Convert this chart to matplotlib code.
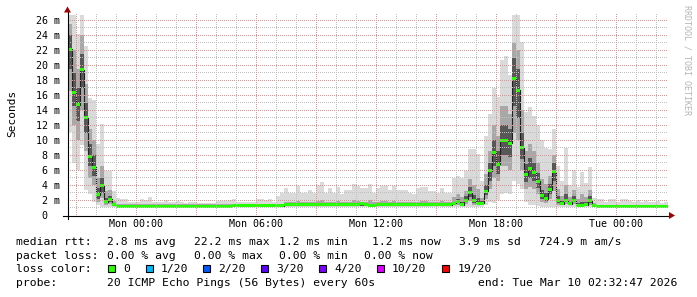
import numpy as np
import matplotlib
matplotlib.use("Agg")
import matplotlib.pyplot as plt
from matplotlib.lines import Line2D
from matplotlib.patches import Rectangle, Polygon

# ---------------- data (ms), 12-minute bins, hours relative to Mon 00:00 ----------------
START_H = -3.4
STEP_H = 0.2

median_ms = ([22.1, 16.4, 14.7, 19.4, 13.0, 7.8, 6.4, 2.7, 3.9, 1.8, 2.1, 1.35]
             + [1.2] * 29 + [1.25] * 13
             + [1.35, 1.35, 1.35, 1.35, 1.35, 1.35, 1.4, 1.4, 1.4, 1.4,
                1.35, 1.35, 1.35, 1.35, 1.35, 1.35, 1.35, 1.4, 1.45, 1.5,
                1.45, 1.3, 1.3, 1.35, 1.35, 1.35, 1.35, 1.35, 1.35, 1.35,
                1.35, 1.35, 1.35, 1.35, 1.4, 1.4, 1.4, 1.45, 1.45]
             + [1.4, 1.4, 1.4, 1.5, 1.8, 1.4, 2.0, 3.0, 1.9, 1.5, 1.6]
             + [3.2, 5.9, 8.3, 6.8, 10.0, 10.0, 9.6, 18.2, 16.6, 9.0, 5.4, 6.2, 5.7, 4.5,
                2.6, 2.2, 3.4, 5.8, 1.9, 1.5, 2.0, 1.5, 2.0, 1.3, 1.3, 1.4, 1.9, 1.3]
             + [1.2] * 18)

smoke_min = ([11.1, 7.0, 6.0, 9.3, 3.3, 2.8, 1.8, 1.3, 1.1, 1.1, 1.1, 1.1]
             + [1.1] * 92
             + [1.4, 1.8, 1.6, 2.0, 2.8, 3.0, 2.8, 4.5, 4.2, 3.5, 1.8, 1.3, 1.3, 1.2]
             + [1.1] * 32)

smoke_max = ([26.7, 26.7, 24.2, 26.7, 22.5, 15.6, 15.3, 9.5, 12.1, 5.9, 5.9, 3.2]
             + [2.3, 2.1, 2.1, 1.8, 1.8, 1.8, 2.1, 2.0, 2.4, 1.8,
                1.7, 1.7, 2.0, 1.7, 1.7, 1.9, 1.7, 1.6, 1.7, 1.7,
                1.6, 1.6, 1.6, 1.6, 1.6, 1.9, 1.9, 1.9, 2.0, 2.1,
                1.8, 1.8, 1.7, 1.7, 1.8, 2.1, 2.1, 2.0, 2.1, 1.8, 2.6, 2.9]
             + [3.6, 2.9, 2.9, 3.9, 2.9, 2.9, 3.3, 3.0, 4.0, 4.4,
                2.9, 3.6, 2.9, 3.8, 2.8, 3.3, 3.3, 4.1, 3.9, 3.6,
                3.6, 4.1, 3.0, 3.6, 3.9, 3.9, 3.4, 3.9, 3.3, 3.4,
                3.4, 2.9, 2.8, 3.6, 3.8, 3.8, 3.2, 3.2, 2.9, 3.6]
             + [3.0, 3.0, 4.9, 5.2, 4.9, 5.9, 8.8, 8.8, 8.2, 4.5]
             + [10.5, 13.5, 17.0, 15.7, 20.7, 21.2, 18.7, 26.7, 26.7, 23.1, 13.8, 14.4, 13.2, 12.0,
                10.0, 9.0, 8.8, 11.5, 6.5, 4.5, 9.0, 4.0, 6.0, 3.8, 5.8, 4.3, 6.4, 2.3]
             + [2.1, 2.1, 1.8, 2.1, 2.2, 1.8, 2.1, 2.1, 1.9, 1.8, 2.0, 1.7, 1.9, 1.8, 1.7, 1.9, 1.6, 1.7])

smoke_mid_lo = ([16.5, 12.0, 10.0, 14.0, 8.5, 5.0, 4.0, 1.8, 2.3, 1.4, 1.5, 1.2]
                + [1.15] * 42 + [1.2] * 39
                + [1.2, 1.2, 1.2, 1.3, 1.4, 1.2, 1.5, 1.9, 1.4, 1.3, 1.3]
                + [2.2, 3.5, 5.0, 4.5, 6.5, 6.5, 6.0, 11.0, 10.0, 6.0, 3.5, 3.8, 3.5, 2.8,
                   1.8, 1.6, 2.2, 3.2, 1.4, 1.3, 1.5, 1.3, 1.5, 1.2, 1.2, 1.2, 1.4, 1.2]
                + [1.15] * 18)

smoke_mid_hi = ([25.5, 22.0, 19.5, 24.0, 17.5, 11.5, 10.0, 5.0, 6.5, 3.2, 3.4, 1.9]
                + [1.45] * 42
                + [1.8, 1.7, 1.7, 1.9, 1.7, 1.7, 1.8, 1.7, 1.9, 2.0,
                   1.7, 1.8, 1.7, 1.9, 1.7, 1.8, 1.8, 2.0, 1.9, 1.8,
                   1.8, 2.0, 1.7, 1.8, 1.9, 1.9, 1.8, 1.9, 1.8, 1.8,
                   1.8, 1.7, 1.7, 1.8, 1.9, 1.9, 1.8, 1.8, 1.7]
                + [1.9, 1.8, 1.8, 2.4, 2.8, 2.4, 3.2, 4.8, 4.0, 3.5, 2.3]
                + [5.5, 8.5, 12.0, 10.5, 14.5, 14.5, 13.5, 23.0, 22.0, 14.0, 8.5, 9.5, 8.5, 7.0,
                   4.8, 4.2, 5.2, 8.0, 3.5, 2.6, 4.0, 2.4, 3.3, 2.2, 2.8, 2.4, 3.4, 1.6]
                + [1.4] * 18)

smoke_in_lo = ([19.5, 14.5, 12.5, 17.0, 11.0, 6.5, 5.2, 2.2, 3.0, 1.6, 1.8, 1.25]
               + [1.15] * 42 + [1.25] * 39
               + [1.3, 1.3, 1.3, 1.4, 1.6, 1.3, 1.7, 2.4, 1.6, 1.4, 1.4]
               + [2.7, 4.5, 6.5, 5.5, 8.0, 8.0, 7.8, 14.5, 13.0, 7.5, 4.4, 5.0, 4.6, 3.6,
                  2.2, 1.9, 2.8, 4.5, 1.6, 1.4, 1.7, 1.4, 1.7, 1.25, 1.25, 1.3, 1.6, 1.25]
               + [1.15] * 18)

smoke_in_hi = ([24.0, 19.0, 17.0, 21.5, 15.0, 9.5, 8.0, 3.6, 5.0, 2.3, 2.6, 1.5]
               + [1.3] * 42 + [1.5] * 39
               + [1.55, 1.55, 1.55, 1.8, 2.2, 1.8, 2.5, 3.7, 2.7, 2.3, 1.85]
               + [4.0, 7.0, 10.0, 8.5, 12.0, 12.0, 11.5, 21.0, 19.5, 11.0, 6.8, 7.6, 7.0, 5.6,
                  3.4, 3.0, 4.2, 7.0, 2.5, 1.9, 2.8, 1.8, 2.6, 1.6, 1.8, 1.7, 2.5, 1.4]
               + [1.3] * 18)

x_tick_hours = [0, 6, 12, 18, 24]
x_tick_labels = ["Mon 00:00", "Mon 06:00", "Mon 12:00", "Mon 18:00", "Tue 00:00"]
y_tick_values = list(range(0, 27, 2))
y_tick_labels = ["0  "] + [f"{v} m" for v in range(2, 27, 2)]

legend_lines = [
    [("median rtt:", 16), ("2.8 ms avg", 107.3), ("22.2 ms max", 194), ("1.2 ms min", 279),
     ("1.2 ms now", 372.4), ("3.9 ms sd", 459), ("724.9 m am/s", 538.7)],
    [("packet loss:", 16), ("0.00 % avg", 107.3), ("0.00 % max", 194), ("0.00 % min", 279),
     ("0.00 % now", 364.4)],
]
loss_labels = ["0", "1/20", "2/20", "3/20", "4/20", "10/20", "19/20"]
loss_colors = ["#26ff00", "#00b8ff", "#0059ff", "#5e00ff", "#7e00ff", "#dd00ff", "#ff0000"]
loss_box_x = [108.3, 145.5, 203.1, 261.3, 319.1, 376.9, 442.2]
loss_label_x = [123.5, 160.3, 217.8, 276.4, 334.2, 392.0, 457.8]
probe_text = "20 ICMP Echo Pings (56 Bytes) every 60s"
end_text = "end: Tue Mar 10 02:32:47 2026"

# ---------------- figure ----------------
W, H = 697, 297
MONO = "DejaVu Sans Mono"
fig = plt.figure(figsize=(W / 100, H / 100), dpi=100)
fig.patch.set_facecolor("white")


def fx(px):
    return px / W


def fy(py):
    return 1 - py / H


YTOP = 26.9
PX_PER_MS = 7.5
PX_PER_H = 20.0
X0_PX, Y0_PX = 67, 215          # pixel of (left edge, value 0)
HOUR0_PX = 136                  # pixel of Mon 00:00
ax = fig.add_axes([fx(X0_PX), fy(Y0_PX), 601 / W, (YTOP * PX_PER_MS) / H])
ax.set_facecolor("white")

n = len(median_ms)
t = START_H + STEP_H * np.arange(n + 1)


def ext(a):
    a = np.asarray(a, dtype=float)
    return np.append(a, a[-1])


ax.fill_between(t, ext(smoke_min), ext(smoke_max), step="post", color="#dadada", lw=0, zorder=1)
ax.fill_between(t, ext(smoke_mid_lo), ext(smoke_mid_hi), step="post", color="#a8a8a8", lw=0, zorder=1.1)
ax.fill_between(t, ext(smoke_in_lo), ext(smoke_in_hi), step="post", color="#575757", lw=0, zorder=1.2)
ax.step(t, ext(median_ms), where="post", color="#202020", lw=0.8, zorder=1.3)
SW = 0.2
med = np.asarray(median_ms)
ax.fill_between(t, ext(med - SW), ext(med + SW), step="post", color="#26ff00", lw=0, zorder=1.4)

XMIN, XMAX = (67 - HOUR0_PX) / PX_PER_H, (668 - HOUR0_PX) / PX_PER_H
ax.set_xlim(XMIN, XMAX)
ax.set_ylim(0, YTOP)

major_x = list(range(-3, 27, 3))
ax.set_xticks(major_x)
ax.set_xticklabels([x_tick_labels[x_tick_hours.index(h)] if h in x_tick_hours else "" for h in major_x])
ax.set_yticks(y_tick_values)
ax.set_yticklabels(y_tick_labels)

ax.tick_params(which="both", length=0)
ax.tick_params(axis="x", pad=3.0)
ax.tick_params(axis="y", pad=5.0)
for lab in ax.get_xticklabels() + ax.get_yticklabels():
    lab.set_fontfamily(MONO)
    lab.set_fontsize(7.2)
    lab.set_color("#000000")
for s in ax.spines.values():
    s.set_visible(False)

# dotted grid as an exact-pixel overlay (drawn above the data, like rrdtool)
MAJOR_RGBA = (222, 146, 146, 255)
MINOR_RGBA = (192, 192, 192, 255)
grid = np.zeros((H, W, 4), dtype=np.uint8)
top_px = int(round(Y0_PX - YTOP * PX_PER_MS)) + 1
for v in range(1, 27):
    row = int(np.floor(Y0_PX - v * PX_PER_MS))
    grid[row, 68:668:2] = MAJOR_RGBA if v % 2 == 0 else MINOR_RGBA
for h in range(-3, 27):
    col = int(HOUR0_PX + h * PX_PER_H)
    grid[top_px:Y0_PX:2, col] = MAJOR_RGBA if h % 3 == 0 else MINOR_RGBA
fig.figimage(grid, xo=0, yo=0, origin="upper", zorder=1)

# axis lines and arrows
fig.add_artist(Line2D([fx(63), fx(670)], [fy(215.5), fy(215.5)], color="black", lw=0.8, zorder=2))
fig.add_artist(Line2D([fx(67.5), fx(67.5)], [fy(219), fy(12)], color="black", lw=0.8, zorder=2))
fig.add_artist(Polygon([[fx(669), fy(212)], [fx(675), fy(215.5)], [fx(669), fy(219)]],
                       closed=True, color="#a00000", lw=0, zorder=2))
fig.add_artist(Polygon([[fx(64), fy(12.5)], [fx(67.5), fy(6.5)], [fx(71), fy(12.5)]],
                       closed=True, color="#a00000", lw=0, zorder=2))

# labels
fig.text(fx(12), fy(113), "Seconds", rotation=90, ha="center", va="center",
         fontfamily=MONO, fontsize=8, color="#000000")
fig.text(fx(687), fy(60), "RRDTOOL / TOBI OETIKER", rotation=270, ha="center", va="center",
         fontfamily=MONO, fontsize=6, color="#b4b4b4")

# legend
LFS = 8.2
baselines = [244.7, 258.7, 272.4, 286.3]
for line, yb in zip(legend_lines, baselines[:2]):
    for txt, xp in line:
        fig.text(fx(xp), fy(yb), txt, ha="left", va="baseline", fontfamily=MONO, fontsize=LFS)
fig.text(fx(16), fy(baselines[2]), "loss color:", ha="left", va="baseline", fontfamily=MONO, fontsize=LFS)
for lbl, col, bx, lx in zip(loss_labels, loss_colors, loss_box_x, loss_label_x):
    fig.add_artist(Rectangle((fx(bx), fy(272.2)), 7.0 / W, 7.6 / H, facecolor=col,
                             edgecolor="black", lw=0.8, transform=fig.transFigure))
    fig.text(fx(lx), fy(baselines[2]), lbl, ha="left", va="baseline", fontfamily=MONO, fontsize=LFS)
fig.text(fx(16), fy(baselines[3]), "probe:", ha="left", va="baseline", fontfamily=MONO, fontsize=LFS)
fig.text(fx(107.3), fy(baselines[3]), probe_text, ha="left", va="baseline", fontfamily=MONO, fontsize=LFS)
fig.text(fx(477.8), fy(baselines[3]), end_text, ha="left", va="baseline", fontfamily=MONO, fontsize=LFS)

fig.savefig("out.png", dpi=100, facecolor="white")
